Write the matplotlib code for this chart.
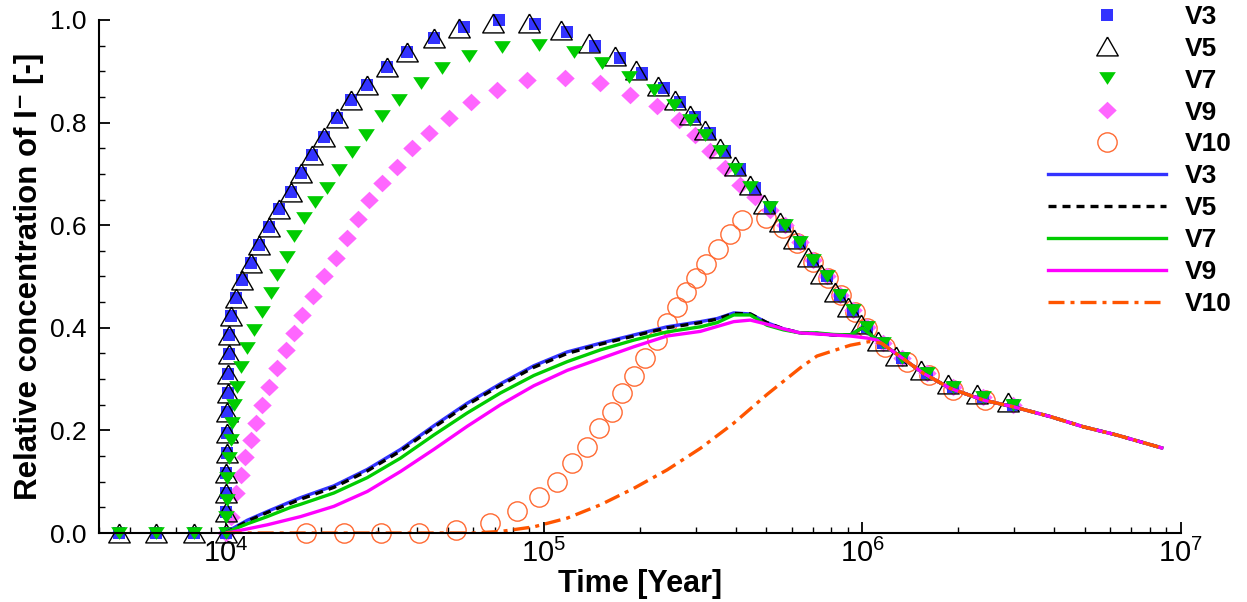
import matplotlib
matplotlib.use('Agg')
import matplotlib.pyplot as plt
from matplotlib.lines import Line2D
from matplotlib.ticker import MultipleLocator, LogLocator

plt.rcParams['font.family'] = ['Liberation Sans', 'DejaVu Sans']
plt.rcParams['mathtext.fontset'] = 'custom'
plt.rcParams['mathtext.rm'] = 'Liberation Sans'
plt.rcParams['mathtext.it'] = 'Liberation Sans:italic'
plt.rcParams['mathtext.bf'] = 'Liberation Sans:bold'

# ---------------- data (time in years, relative concentration) ----------------
labels = ['V3', 'V5', 'V7', 'V9', 'V10']

# symbol series
v3_sym_t = [4630, 6060, 7950, 10000, 10020, 10040, 10060, 10080, 10100, 10120, 10150,
            10180, 10220, 10280, 10400, 10750, 11280, 11980, 12720, 13680, 14700,
            16000, 17200, 18710, 20350, 22420, 24690, 27860, 32190, 37200, 45080,
            55970, 72100, 94000, 118300, 145100, 173800, 203400, 237700, 268400,
            299000, 333300, 371500, 414000, 461300, 514000, 573000, 638000, 701000,
            774000, 853000, 937000, 1035000, 1165000, 1333000, 1597000, 1931000,
            2400000, 2980000]
v3_sym_c = [0, 0, 0, 0.0, 0.04, 0.078, 0.117, 0.156, 0.195, 0.235, 0.272,
            0.31, 0.348, 0.385, 0.423, 0.458, 0.493, 0.527, 0.562, 0.597, 0.632,
            0.665, 0.702, 0.737, 0.772, 0.808, 0.844, 0.873, 0.909, 0.938, 0.964,
            0.987, 0.999, 0.992, 0.977, 0.950, 0.925, 0.896, 0.867, 0.84,
            0.81, 0.78, 0.745, 0.71, 0.672, 0.636, 0.600, 0.568, 0.532,
            0.5, 0.464, 0.435, 0.402, 0.370, 0.341, 0.312, 0.285,
            0.266, 0.25]

v5_sym_t = [4630, 6060, 7950, 10000, 10020, 10040, 10060, 10080, 10100, 10120, 10150,
            10180, 10220, 10280, 10400, 10750, 11280, 11980, 12720, 13680, 14700,
            16000, 17200, 18710, 20350, 22420, 24690, 27860, 32190, 37200, 45080,
            54000, 69000, 90000, 113500, 139000, 167000, 195000, 228000, 258000,
            287000, 320000, 357000, 397000, 443000, 493000, 550000, 612000, 673000,
            743000, 819000, 900000, 993000, 1120000, 1280000, 1535000, 1855000,
            2300000, 2880000]
v5_sym_c = [0, 0, 0, 0.0, 0.04, 0.078, 0.117, 0.156, 0.195, 0.235, 0.272,
            0.31, 0.348, 0.385, 0.423, 0.458, 0.493, 0.527, 0.562, 0.597, 0.632,
            0.665, 0.702, 0.737, 0.772, 0.808, 0.844, 0.873, 0.909, 0.938, 0.964,
            0.985, 0.995, 0.995, 0.980, 0.955, 0.93, 0.902, 0.872, 0.845,
            0.815, 0.785, 0.75, 0.715, 0.678, 0.642, 0.607, 0.573, 0.538,
            0.505, 0.47, 0.44, 0.408, 0.375, 0.346, 0.317, 0.290,
            0.27, 0.255]

v7_sym_t = [4630, 6060, 7950, 10000, 10030, 10070, 10120, 10250, 10370, 10500, 10620,
            10880, 11200, 11650, 12270, 13000, 13850, 14540, 15620, 16390, 17580,
            19030, 20860, 22690, 24990, 27520, 31040, 34990, 40950, 47910, 58060,
            73940, 96320, 124100, 152300, 184600, 221300, 255600, 288400, 321500,
            358300, 399300, 444600, 514000, 573000, 638000, 701000, 774000, 853000,
            937000, 1035000, 1165000, 1333000, 1597000, 1931000, 2400000, 2980000]
v7_sym_c = [0, 0, 0, 0.0, 0.032, 0.064, 0.107, 0.146, 0.181, 0.214, 0.25,
            0.285, 0.323, 0.36, 0.395, 0.43, 0.468, 0.503, 0.538, 0.579, 0.615,
            0.645, 0.672, 0.708, 0.743, 0.776, 0.812, 0.844, 0.877, 0.906, 0.929,
            0.948, 0.951, 0.938, 0.916, 0.889, 0.864, 0.834, 0.805, 0.775,
            0.745, 0.71, 0.675, 0.636, 0.600, 0.568, 0.532, 0.5, 0.464,
            0.435, 0.402, 0.370, 0.341, 0.312, 0.285, 0.266, 0.25]

v9_sym_t = [10000, 10370, 10750, 11150, 11510, 11980, 12420, 13040, 13680, 14530,
            15430, 16390, 17410, 18870, 20440, 22150, 24000, 26010, 28180, 31040,
            34610, 38580, 43480, 50240, 58780, 71320, 88560, 116800, 150500, 186800,
            226700, 265000, 299000, 333300, 371500, 414000, 461300, 514000, 573000,
            638000, 701000, 774000, 853000, 937000, 1035000, 1165000, 1333000,
            1597000, 1931000, 2400000, 2980000]
v9_sym_c = [0.0, 0.032, 0.078, 0.113, 0.148, 0.181, 0.214, 0.25, 0.285, 0.321,
            0.357, 0.389, 0.425, 0.462, 0.5, 0.537, 0.575, 0.612, 0.649, 0.682,
            0.714, 0.75, 0.779, 0.808, 0.841, 0.864, 0.883, 0.886, 0.877, 0.854,
            0.832, 0.805, 0.775, 0.745, 0.712, 0.678, 0.655, 0.630, 0.600,
            0.568, 0.532, 0.5, 0.464, 0.435, 0.402, 0.370, 0.341,
            0.312, 0.285, 0.266, 0.25]

v10_sym_t = [17830, 23520, 30670, 40460, 52740, 67920, 82390, 96320, 110000, 122600,
             136600, 148600, 163800, 176000, 191400, 208300, 226700, 243700, 261900,
             280200, 301200, 323700, 353200, 385100, 420100, 499500, 565000, 623600,
             702500, 782800, 859800, 950000, 1035000, 1181000, 1381000, 1615000,
             1935000, 2433000]
v10_sym_c = [0, 0, 0, 0, 0.006, 0.02, 0.042, 0.071, 0.1, 0.136,
             0.168, 0.204, 0.236, 0.272, 0.306, 0.341, 0.376, 0.409, 0.441,
             0.469, 0.497, 0.525, 0.554, 0.582, 0.61, 0.615, 0.595, 0.565,
             0.529, 0.497, 0.464, 0.431, 0.40, 0.363, 0.334, 0.308,
             0.279, 0.259]

# line series
v3_line_t = [10000, 10120, 11700, 13515, 16000, 17200, 21880, 27860, 35440, 45080,
             57400, 73030, 92900, 118300, 150500, 191400, 243700, 310000, 349900,
             394500, 444900, 502000, 565000, 638800, 720800, 812700, 917000, 1000000,
             1112000, 1316000, 1558000, 1889000, 2403000, 2985000, 3894000, 4953000,
             6304000, 8831000]
v3_line_c = [0, 0.003, 0.025, 0.042, 0.061, 0.069, 0.092, 0.124, 0.163, 0.209,
             0.253, 0.291, 0.326, 0.353, 0.37, 0.386, 0.402, 0.412, 0.418,
             0.429, 0.427, 0.41, 0.398, 0.39, 0.389, 0.386, 0.386, 0.40,
             0.376, 0.344, 0.311, 0.282, 0.259, 0.246, 0.227, 0.207,
             0.191, 0.165]

v5_line_t = v3_line_t
v5_line_c = [0, 0.002, 0.023, 0.040, 0.058, 0.066, 0.089, 0.121, 0.160, 0.206,
             0.250, 0.288, 0.323, 0.350, 0.368, 0.384, 0.400, 0.410, 0.417,
             0.428, 0.427, 0.41, 0.398, 0.39, 0.389, 0.386, 0.386, 0.40,
             0.376, 0.344, 0.311, 0.282, 0.259, 0.246, 0.227, 0.207,
             0.191, 0.165]

v7_line_t = v3_line_t
v7_line_c = [0, 0.002, 0.018, 0.032, 0.05, 0.056, 0.078, 0.108, 0.146, 0.191,
             0.234, 0.273, 0.307, 0.334, 0.357, 0.376, 0.392, 0.402, 0.41,
             0.425, 0.425, 0.405, 0.396, 0.39, 0.39, 0.387, 0.386, 0.40,
             0.376, 0.344, 0.311, 0.282, 0.259, 0.246, 0.227, 0.207,
             0.191, 0.165]

v9_line_t = [10000, 10500, 13515, 17200, 21880, 27860, 35440, 45080, 57400, 73030,
             92900, 118300, 150500, 191400, 243700, 310000, 394500, 444900, 502000,
             565000, 638800, 720800, 812700, 917000, 1035000, 1112000, 1316000,
             1558000, 1889000, 2403000, 2985000, 3894000, 4953000, 6304000, 8831000]
v9_line_c = [0, 0.002, 0.016, 0.032, 0.052, 0.081, 0.12, 0.163, 0.208, 0.25,
             0.287, 0.317, 0.34, 0.363, 0.384, 0.393, 0.412, 0.415, 0.407,
             0.398, 0.39, 0.388, 0.386, 0.384, 0.38, 0.376, 0.344,
             0.311, 0.282, 0.259, 0.246, 0.227, 0.207, 0.191, 0.165]

v10_line_t = [10000, 17830, 60000, 73030, 92900, 118300, 150500, 191400, 243700,
              310000, 394500, 502000, 638800, 720800, 917000, 1050000, 1150000,
              1316000, 1558000, 1889000, 2403000, 2985000, 3894000, 4953000,
              6304000, 8831000]
v10_line_c = [0, 0, 0, 0.003, 0.012, 0.029, 0.055, 0.087, 0.123,
              0.165, 0.214, 0.27, 0.322, 0.345, 0.366, 0.373, 0.37,
              0.344, 0.311, 0.282, 0.259, 0.246, 0.227, 0.207,
              0.191, 0.165]

y_ticks = [0.0, 0.2, 0.4, 0.6, 0.8, 1.0]
y_ticklabels = ['0.0', '0.2', '0.4', '0.6', '0.8', '1.0']

# ---------------- styles ----------------
tri_up = [(0, 0.875), (-1, -0.875), (1, -0.875), (0, 0.875)]
tri_down = [(-1, 0.76), (1, 0.76), (0, -0.76), (-1, 0.76)]
diamond = [(0, 0.95), (1, 0), (0, -0.95), (-1, 0), (0, 0.95)]

sym_styles = [
    dict(marker='s', ms=9.0, mfc='#3333FF', mec='#3333FF', mew=0),
    dict(marker=tri_up, ms=15.5, mfc='none', mec='black', mew=1.0),
    dict(marker=tri_down, ms=12.0, mfc='#00CC00', mec='#00CC00', mew=0),
    dict(marker=diamond, ms=13.3, mfc='#FF66FF', mec='#FF66FF', mew=0),
    dict(marker='o', ms=13.9, mfc='none', mec='#FF6A33', mew=1.0),
]
line_styles = [
    dict(color='#3333FF', lw=2.4, ls='-'),
    dict(color='black', lw=2.4, ls=(0, (2.4, 1.8))),
    dict(color='#00CC00', lw=2.4, ls='-'),
    dict(color='#FF00FF', lw=2.4, ls='-'),
    dict(color='#FF5500', lw=2.4, ls=(0, (4.8, 1.8, 1.2, 1.8))),
]

fig = plt.figure(figsize=(12.47, 6.02), dpi=100)
ax = fig.add_axes([0.0794, 0.1146, 0.8673, 0.8522])

sym_data = [(v3_sym_t, v3_sym_c), (v5_sym_t, v5_sym_c), (v7_sym_t, v7_sym_c),
            (v9_sym_t, v9_sym_c), (v10_sym_t, v10_sym_c)]
line_data = [(v3_line_t, v3_line_c), (v5_line_t, v5_line_c), (v7_line_t, v7_line_c),
             (v9_line_t, v9_line_c), (v10_line_t, v10_line_c)]

sym_order = [4, 3, 0, 1, 2]
for i in sym_order:
    t, c = sym_data[i]
    ax.plot(t, c, ls='none', clip_on=False, zorder=2, **sym_styles[i])
for i, (t, c) in enumerate(line_data):
    ax.plot(t, c, zorder=3, solid_capstyle='butt', dash_capstyle='butt',
            solid_joinstyle='round', **line_styles[i])

ax.set_xscale('log')
ax.set_xlim(4000, 1e7)
ax.set_ylim(0, 1.0)
ax.set_yticks(y_ticks)
ax.set_yticklabels(y_ticklabels)
ax.yaxis.set_minor_locator(MultipleLocator(0.05))
ax.xaxis.set_major_locator(LogLocator(base=10, numticks=10))
ax.xaxis.set_minor_locator(LogLocator(base=10, subs=range(2, 10), numticks=20))

for s in ['top', 'right']:
    ax.spines[s].set_visible(False)
for s in ['left', 'bottom']:
    ax.spines[s].set_linewidth(1.5)
    ax.spines[s].set_zorder(5)

ax.tick_params(axis='both', which='major', direction='in', length=8, width=1.3)
ax.tick_params(axis='both', which='minor', direction='in', length=4.5, width=1.0)
ax.tick_params(axis='y', which='major', labelsize=19, pad=9)
ax.tick_params(axis='x', which='major', labelsize=21, pad=4)

ax.set_xlabel('Time [Year]', fontsize=22, fontweight='bold', labelpad=1)
ax.set_ylabel('Relative concentration of I\u207b [-]', fontsize=22.5, fontweight='bold', labelpad=4)

handles = []
for st in sym_styles:
    handles.append(Line2D([], [], ls='none', **st))
for st in line_styles:
    handles.append(Line2D([], [], **st))
fig.legend(handles, labels + labels, loc='upper left',
           bbox_to_anchor=(1048 / 1247, 0.992), frameon=False, numpoints=1,
           prop=dict(size=19, weight='bold'), handlelength=4.47, handletextpad=0.72,
           labelspacing=0.30, borderpad=0, borderaxespad=0)

fig.savefig('out.png', dpi=100)
